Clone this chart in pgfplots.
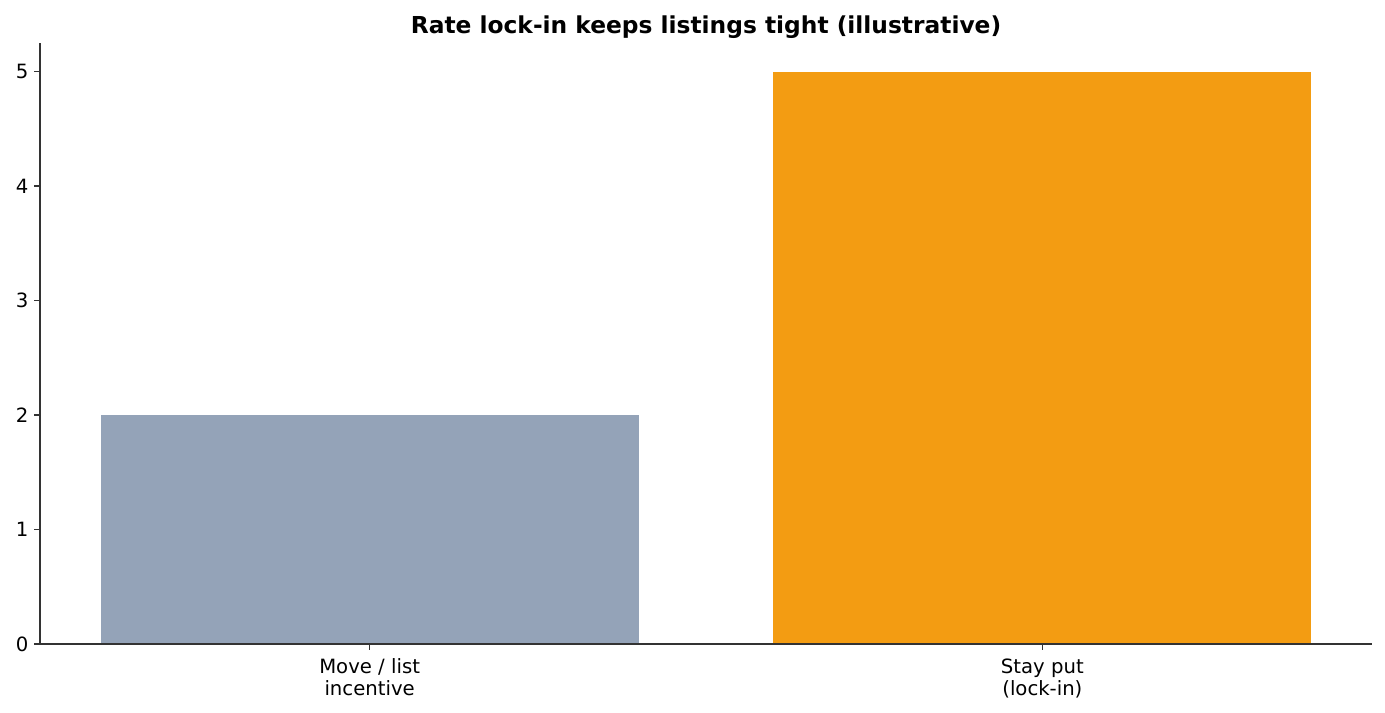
\documentclass[border=0pt]{standalone}
\usepackage{fontspec}
\setmainfont{DejaVu Sans}
\usepackage{pgfplots}
\pgfplotsset{compat=1.18}
\definecolor{barslate}{HTML}{94A3B8}
\definecolor{barorange}{HTML}{F39C12}
\definecolor{spine}{HTML}{333333}
\begin{document}
\begin{tikzpicture}
\begin{axis}[
    at={(0,0)}, anchor=south west,
    scale only axis,
    width=799.2pt, height=360.6pt,
    xmin=-0.49, xmax=1.49,
    ymin=0, ymax=5.25,
    axis x line*=bottom,
    axis y line*=left,
    axis line style={spine, line width=0.8pt},
    every tick/.style={spine, line width=0.8pt},
    tick align=outside,
    major tick length=3.5pt,
    xtick={0,1},
    xticklabels={{Move / list\\incentive},{Stay put\\(lock-in)}},
    ytick={0,1,2,3,4,5},
    xticklabel style={align=center, font=\fontsize{11.8}{13.2}\selectfont, yshift=-2pt},
    yticklabel style={font=\fontsize{11.8}{13.2}\selectfont},
    /pgf/number format/assume math mode=true,
    title={\bfseries Rate lock-in keeps listings tight (illustrative)},
    title style={font=\fontsize{14}{16}\selectfont, at={(0.5,1)}, anchor=base, yshift=-0.6pt},
    axis on top,
    clip=false,
]
\addplot[ybar, bar width=0.8, fill=barslate, draw=none] coordinates {(0,2)};
\addplot[ybar, bar width=0.8, fill=barorange, draw=none] coordinates {(1,5)};
\end{axis}
\pgfresetboundingbox
\path (-24pt,-41.4pt) rectangle (807pt,386.4pt);
\end{tikzpicture}
\end{document}
